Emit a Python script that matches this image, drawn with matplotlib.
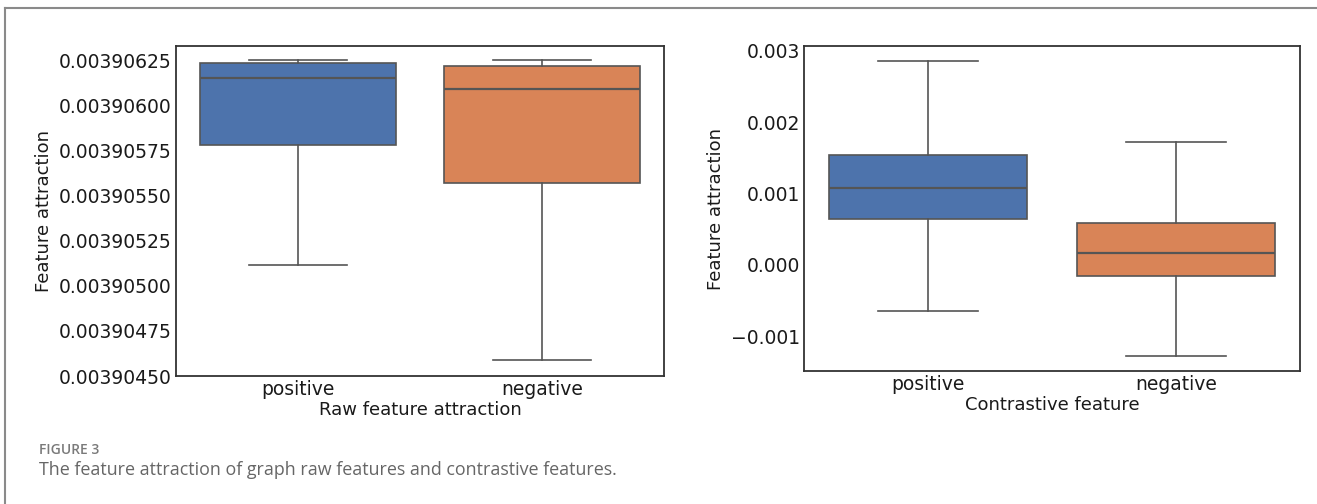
import numpy as np
import matplotlib
matplotlib.use("Agg")
from matplotlib import pyplot as plt
from matplotlib.lines import Line2D
from matplotlib.ticker import FixedLocator, ScalarFormatter

# categories and box statistics
groups = ["positive", "negative"]
colors = ["#4D73AC", "#D98457"]

raw_whislo = [0.003905113, 0.003904589]
raw_q1 = [0.003905782, 0.003905569]
raw_med = [0.003906150, 0.003906091]
raw_q3 = [0.003906235, 0.003906220]
raw_whishi = [0.00390625, 0.00390625]
raw_yticks = [0.00390450, 0.00390475, 0.00390500, 0.00390525,
              0.00390550, 0.00390575, 0.00390600, 0.00390625]
raw_ylim = (0.0039045, 0.00390633)

con_whislo = [-0.000653, -0.00128]
con_q1 = [0.000640, -0.000154]
con_med = [0.001084, 0.000164]
con_q3 = [0.001536, 0.000592]
con_whishi = [0.00286, 0.00172]
con_yticks = [-0.001, 0.000, 0.001, 0.002, 0.003]

W, H = 1317, 504
fig = plt.figure(figsize=(W / 100, H / 100), dpi=100)
line_col = "#555555"


def draw_boxes(ax, whislo, q1, med, q3, whishi, yticks, xlabel):
    stats = []
    for i in range(len(groups)):
        stats.append(dict(whislo=whislo[i], q1=q1[i], med=med[i], q3=q3[i],
                          whishi=whishi[i], fliers=[], label=groups[i]))
    bp = ax.bxp(stats, positions=range(len(groups)), widths=0.8,
                patch_artist=True, showfliers=False, capwidths=0.4,
                boxprops=dict(edgecolor=line_col, linewidth=1.2),
                whiskerprops=dict(color=line_col, linewidth=1.2),
                capprops=dict(color=line_col, linewidth=1.2),
                medianprops=dict(color=line_col, linewidth=1.6))
    for patch, c in zip(bp["boxes"], colors):
        patch.set_facecolor(c)
    ax.set_xlim(-0.5, len(groups) - 0.5)
    ax.yaxis.set_major_locator(FixedLocator(yticks))
    fmt = ScalarFormatter(useOffset=False)
    ax.yaxis.set_major_formatter(fmt)
    ax.tick_params(length=0, pad=3, labelsize=13.5, colors="#1a1a1a")
    ax.set_ylabel("Feature attraction", fontsize=13, labelpad=4, color="#1a1a1a")
    ax.set_xlabel(xlabel, fontsize=13, labelpad=1, color="#1a1a1a")
    for s in ax.spines.values():
        s.set_color("#333333")
        s.set_linewidth(1.3)


ax1 = fig.add_axes([176 / W, 1 - 376 / H, 488 / W, 330 / H])
draw_boxes(ax1, raw_whislo, raw_q1, raw_med, raw_q3, raw_whishi, raw_yticks,
           "Raw feature attraction")
ax1.set_ylim(*raw_ylim)

ax2 = fig.add_axes([804 / W, 1 - 371 / H, 496 / W, 325 / H])
draw_boxes(ax2, con_whislo, con_q1, con_med, con_q3, con_whishi, con_yticks,
           "Contrastive feature")

# frame around the figure (left and top edges only)
fig.add_artist(Line2D([4.5 / W, 4.5 / W], [0, 1 - 7.5 / H], color="#8a8a8a",
                      linewidth=1.5, transform=fig.transFigure))
fig.add_artist(Line2D([4.5 / W, 1], [1 - 7.5 / H, 1 - 7.5 / H], color="#8a8a8a",
                      linewidth=1.5, transform=fig.transFigure))

fig.text(39 / W, 1 - 450 / H, "FIGURE 3", family="Open Sans", weight="semibold",
         fontsize=10, color="#7a7a7a", va="center", ha="left")
fig.text(39 / W, 1 - 470 / H,
         "The feature attraction of graph raw features and contrastive features.",
         family="Open Sans", fontsize=12.9, color="#666666", va="center", ha="left")

fig.savefig("out.png", dpi=100)
